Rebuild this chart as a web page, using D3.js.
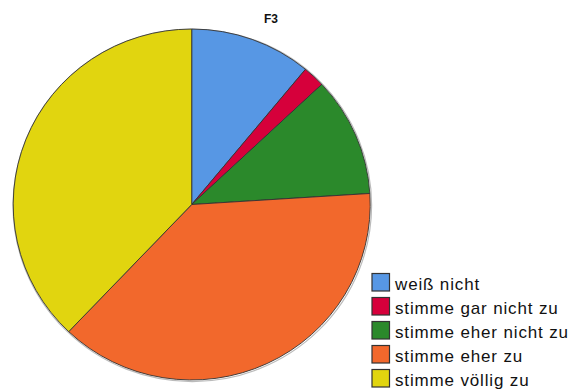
<!DOCTYPE html>
<html>
<head>
<meta charset="utf-8">
<script src="https://cdn.jsdelivr.net/npm/d3@7"></script>
<style>
  html, body { margin: 0; padding: 0; background: #fff; }
  svg { display: block; font-family: "Liberation Sans", Arial, sans-serif; }
</style>
</head>
<body>
<svg id="chart" width="585" height="392"></svg>
<script>
// Answer categories for question F3 and their shares in percent
const categories = ["weiß nicht", "stimme gar nicht zu", "stimme eher nicht zu", "stimme eher zu", "stimme völlig zu"];
const percents = [11.0, 2.0, 11.0, 38.1, 37.9];
const colors = ["#5797e4", "#d6003b", "#2b892b", "#f2682c", "#e1d50f"];
const title = "F3";

const svg = d3.select("#chart");

const cx = 191.7, cy = 204.5, r = 178.5;

svg.append("text")
  .attr("x", 271).attr("y", 23)
  .attr("text-anchor", "middle")
  .attr("font-size", 12).attr("font-weight", "bold")
  .attr("fill", "#111")
  .text(title);

const data = categories.map((c, i) => ({ cat: c, value: percents[i], color: colors[i] }));

const pie = d3.pie().value(d => d.value).sort(null);
const arc = d3.arc().innerRadius(0).outerRadius(r);

const g = svg.append("g")
  .attr("transform", `translate(${cx},${cy}) scale(1,0.983)`);

// soft edge shadow under the pie
g.append("circle").attr("r", r + 0.8).attr("cx", 0.6).attr("cy", 0.8)
  .attr("fill", "none").attr("stroke", "#bbb").attr("stroke-width", 1.2);

g.selectAll("path.slice")
  .data(pie(data))
  .join("path")
  .attr("class", "slice")
  .attr("d", arc)
  .attr("fill", d => d.data.color)
  .attr("stroke", "#333")
  .attr("stroke-width", 0.9)
  .attr("vector-effect", "non-scaling-stroke");

// Legend
const legend = svg.append("g").attr("transform", "translate(371.5,273)");
const item = legend.selectAll("g.item")
  .data(data)
  .join("g")
  .attr("class", "item")
  .attr("transform", (d, i) => `translate(0,${i * 24})`);

item.append("rect")
  .attr("x", 0.5).attr("y", 0.5)
  .attr("width", 17.5).attr("height", 17.5)
  .attr("fill", d => d.color)
  .attr("stroke", "#333").attr("stroke-width", 1.2);

item.append("text")
  .attr("x", 23.5).attr("y", 17)
  .attr("font-size", 17)
  .attr("letter-spacing", 0.85)
  .attr("fill", "#111")
  .text(d => d.cat);
</script>
</body>
</html>
